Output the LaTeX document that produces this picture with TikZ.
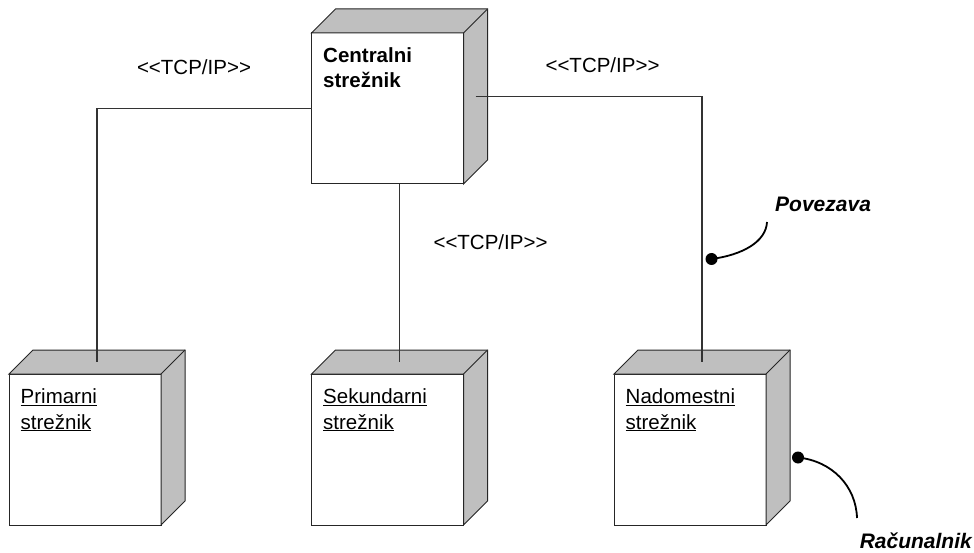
\documentclass[tikz,border=0pt]{standalone}
\usepackage{fontspec}
\setmainfont{Liberation Sans}
\usetikzlibrary{calc}

% stereotype text; each angle bracket in its own box so no guillemet ligature forms
\newcommand\stereo[1]{\mbox{<}\mbox{<}#1\mbox{>}\mbox{>}}

\tikzset{
  devfront/.style={draw=black!85, fill=white, line width=1pt, rectangle,
    anchor=north west, minimum width=152pt, minimum height=151pt,
    inner sep=0pt, outer sep=0pt},
  devside/.style={draw=black!85, fill=black!25, line width=1pt, line join=miter},
  devtext/.style={anchor=base west, align=left, inner sep=0pt,
    font=\fontsize{20.5}{25.5}\selectfont},
  conn/.style={draw=black!80, line width=1.2pt},
  stereolabel/.style={anchor=base, inner sep=0pt,
    font=\fontsize{20.5}{25.5}\selectfont},
  notelabel/.style={inner sep=0pt,
    font=\fontsize{21}{25.5}\selectfont\bfseries\itshape},
  notedot/.style={circle, fill=black, minimum size=12pt, inner sep=0pt},
  noteline/.style={draw=black, line width=1.8pt},
}

% three-sided box for a deployment node: name, x, y of front top-left, text
% (the text's base anchor is the baseline of its second line)
\newcommand\devicebox[4]{%
  \node[devfront] (#1) at (#2,#3) {};
  \filldraw[devside] (#1.north west) -- ++(24,-24) -- ++(152,0) -- ++(0,151)
    -- (#1.south east) -- (#1.north east) -- cycle;
  \draw[devside] (#1.north east) -- ++(24,-24);
  \coordinate (#1-top) at ($(#1.north)+(12,-12)$);
  \coordinate (#1-side) at ($(#1.east)+(12,-12)$);
  \node[devtext] (#1-text) at ($(#1.north west)+(11.5,55)$) {#4};
}

\begin{document}
\begin{tikzpicture}[x=1pt, y=-1pt]
  \useasboundingbox[fill=white] (0,0) rectangle (974,553);

  % deployment nodes
  \devicebox{cen}{311.5}{33}{\bfseries Centralni\\\bfseries strežnik}
  \devicebox{prim}{9}{374}{\underline{Primarni}\\\underline{strežnik}}
  \devicebox{sek}{311.5}{374}{\underline{Sekundarni}\\\underline{strežnik}}
  \devicebox{nad}{614}{374}{\underline{Nadomestni}\\\underline{strežnik}}

  % communication links
  \draw[conn] (cen.west) -| (prim-top);
  \draw[conn] (sek-top |- cen.south) -- (sek-top);
  \draw[conn] (cen-side) -| (nad-top);

  % link stereotypes
  \node[stereolabel] (tcp1) at (194,75) {\stereo{TCP/IP}};
  \node[stereolabel] (tcp2) at (490.5,250) {\stereo{TCP/IP}};
  \node[stereolabel] (tcp3) at (602.5,73) {\stereo{TCP/IP}};

  % annotation: link
  \node[notelabel, anchor=base west] (povezava) at (775,212) {Povezava};
  \node[notedot] (pdot) at (711.5,259) {};
  \coordinate (pend) at (767,222);
  \draw[noteline] (pdot.center) .. controls (742,255) and (766,242) .. (pend);

  % annotation: computer
  \node[notelabel, anchor=base east] (racunalnik) at (972,548) {Računalnik};
  \node[notedot] (rdot) at (798,457.5) {};
  \coordinate (rend) at (857,518);
  \draw[noteline] (rdot.center) .. controls (832,461) and (856,486) .. (rend);
\end{tikzpicture}
\end{document}
